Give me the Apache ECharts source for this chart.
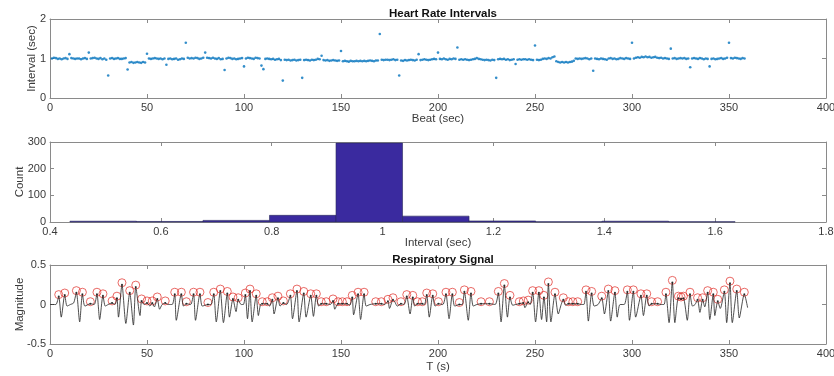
<!DOCTYPE html>
<html>
<head>
<meta charset="utf-8">
<script src="https://cdn.jsdelivr.net/npm/echarts@6/dist/echarts.min.js"></script>
<style>html,body{margin:0;padding:0;background:#fff}#c{width:834px;height:376px}</style>
</head>
<body>
<div id="c"></div>
<script>
// ---- Heart rate intervals (sec), beats 1..358 ----
const hrInterval = [
1.00,1.02,1.01,0.99,1.00,0.98,1.00,1.01,0.99,1.11,
1.01,1.00,0.99,1.00,1.00,0.98,1.00,1.01,0.99,1.15,
1.00,1.01,1.02,1.00,0.99,1.01,0.98,1.00,0.97,0.57,
1.00,1.01,0.99,1.00,1.01,0.99,0.99,1.00,1.01,0.72,
0.90,0.91,0.89,0.90,0.91,0.90,0.89,0.91,0.90,1.12,
1.00,0.99,1.00,1.01,1.00,0.99,1.00,0.98,1.00,0.84,
0.99,1.00,0.98,0.99,1.00,0.97,0.98,1.00,0.99,1.40,
1.02,1.00,1.01,1.00,1.02,1.01,0.99,1.00,1.02,1.15,
1.02,1.01,1.00,1.02,1.00,0.99,1.01,0.98,0.99,0.71,
1.00,1.02,1.01,0.99,1.00,0.98,0.99,1.00,1.01,0.80,
1.00,1.02,1.01,1.00,0.99,1.02,1.01,1.00,0.82,0.73,
0.99,1.00,0.99,0.98,0.99,0.97,0.98,0.99,0.96,0.44,
0.97,0.96,0.97,0.95,0.96,0.97,0.95,0.96,0.97,0.51,
0.96,0.97,0.96,0.95,0.97,0.96,0.97,0.99,0.98,1.07,
0.96,0.95,0.96,0.94,0.95,0.96,0.95,0.94,0.95,1.19,
0.93,0.94,0.93,0.92,0.94,0.93,0.93,0.94,0.93,0.94,
0.93,0.94,0.93,0.94,0.95,0.94,0.93,0.95,0.95,1.62,
0.97,0.96,0.97,0.97,0.96,0.97,0.98,0.96,0.97,0.57,
0.95,0.94,0.96,0.95,0.96,0.97,0.96,0.95,0.97,1.11,
0.96,0.97,0.98,0.97,0.96,0.97,0.98,0.99,0.98,1.15,
0.99,0.98,1.00,0.98,0.97,0.99,0.98,1.00,0.99,1.28,
0.97,0.98,0.97,0.98,0.97,0.96,0.97,0.98,0.99,1.01,
0.99,0.98,0.97,0.96,0.97,0.96,0.95,0.97,0.96,0.51,
0.98,0.99,0.98,0.99,0.97,0.98,0.96,0.97,0.98,0.86,
0.97,0.98,0.97,0.98,0.98,0.97,0.98,0.97,0.96,1.33,
0.97,0.96,0.97,0.99,1.00,0.99,1.01,1.00,1.03,1.05,
0.93,0.91,0.90,0.91,0.90,0.91,0.90,0.91,0.92,0.94,
1.00,0.99,1.00,0.99,1.00,1.01,1.00,0.98,1.00,0.69,
1.00,0.99,0.98,1.00,0.99,0.98,0.97,1.00,1.01,0.99,
1.00,0.98,0.99,1.01,1.00,0.99,1.01,1.00,0.99,1.40,
1.00,1.02,1.03,1.02,1.04,1.03,1.05,1.03,1.04,1.02,
1.03,1.04,1.02,1.01,1.02,1.00,1.01,1.00,0.99,1.25,
1.00,1.01,0.99,1.00,1.01,1.00,1.01,0.99,1.00,0.78,
1.00,1.01,1.00,0.99,1.01,1.00,0.98,1.00,0.99,0.80,
0.99,1.00,0.98,0.99,1.00,1.01,0.99,1.00,1.02,1.40,
1.01,1.00,1.02,1.01,1.00,0.99,1.01,1.00
];

// ---- Histogram of intervals ----
const binEdges = [0.436,0.556,0.676,0.796,0.916,1.036,1.156,1.276,1.396,1.516,1.636];
const binCounts = [3,2,6,25,296,22,4,1,3,1];

// ---- Respiratory signal (time s, magnitude) ----
const sigT = [0,3,4.5,5.8,7.6,8.8,10.5,12.2,13.6,15.3,16.7,18,20.8,22.8,24.2,25.6,27.3,28.5,30,32,33.5,
34.5,35.3,37.1,39.1,41.1,43.0,44.2,46.4,47.2,48.5,50,51.5,52.7,53.8,55.3,56.5,57.8,59.4,61,63,
64.3,65.1,67.7,68.8,70.3,72.5,74,75,77.3,78.5,81.4,83,
84.4,85.7,87.8,89.4,91.4,92.5,94.3,95.9,97,98.5,99.7,
100.7,101.8,103.1,104.2,106.3,107.4,108.5,109.4,112,113.2,114.6,115.5,117.5,118.6,120.3,122,
123.9,125,127.3,128.4,130.8,132,134.4,135.8,137.3,138.5,139.8,142.4,144.5,145.9,146.8,148.5,150.7,153.1,154.5,
155.8,156.5,158.8,160.1,161.9,163,165,167.9,170.8,172.5,
174.2,175,176.8,177.8,179,180.9,182.5,
183.9,185.6,187,188,189.4,191.9,193,
194.2,195.5,197.3,198.5,200.2,202.5,
204.1,205.7,207.4,208.6,211,212.5,
213.6,215.6,217,218.2,220,222.2,226.5,229.5,
231.1,232.5,234.2,235.8,237.1,238.5,240,241.9,244,244.8,246.5,247.5,
248.8,250.3,252,253.4,254.6,256,256.9,258.2,260.3,262,263.5,264.6,265.8,267.2,269.5,272,274,275.2,
276.3,277.5,279.2,280.5,282.5,284.4,285.8,287.8,289,291.2,292.4,293.8,296,
297.6,298.7,300.7,301.9,304.6,305.9,307.6,308.8,310.1,313.2,315,316.5,
317.5,319.1,320.8,322.1,323.9,325.3,326.5,328.5,329.9,331.2,332.5,333.8,335,336.4,337.5,
339,340.1,341.9,342.7,344.2,345.5,347.6,348.8,350.5,351.7,354,355.3,357.9,359.6];
const sigV = [0,0,0.10,-0.16,0.12,-0.02,0,0.02,0.15,-0.22,0.13,-0.02,0.01,0,0.13,-0.19,0.11,-0.02,0,0.02,0,
0.08,-0.16,0.25,-0.24,0.15,-0.26,0.22,-0.14,0.045,0,0.02,-0.02,0.02,-0.03,0.07,-0.06,0,0.02,0,0,
0.13,-0.20,0.13,-0.02,0.01,0,0.13,-0.20,0.13,-0.02,0,0,
0.13,-0.22,0.17,-0.23,0.14,-0.16,0.07,-0.09,0.06,0,0,
0.12,-0.18,0.17,-0.22,0.11,-0.14,0,0.01,0.01,-0.02,0.06,-0.12,0.08,-0.02,0.02,0,
0.11,-0.18,0.17,-0.22,0.14,-0.16,0.11,-0.15,0.11,-0.02,0.01,0.01,0,0.045,-0.06,0.01,0.01,0.01,-0.01,
0.09,-0.13,0.13,-0.19,0.13,-0.02,0,0.01,0.01,0,
0.04,-0.05,0.06,0.03,-0.02,0.01,0,
0.10,-0.12,0.09,-0.02,0.01,0.01,0,
0.12,-0.16,0.11,-0.02,0.01,0,
0.13,-0.18,0.13,-0.02,0,0,
0.16,-0.20,0.14,-0.02,0,0.01,0.01,0,
0.14,-0.22,0.24,-0.16,0.09,-0.01,0,0.01,0.02,-0.04,0.03,0,
0.15,-0.22,0.15,-0.19,0.09,-0.22,0.26,-0.22,0.13,-0.12,0,0.06,-0.01,0.01,0.01,0.01,0,0,
0.16,-0.21,0.14,-0.02,0,0.08,-0.12,0.17,-0.21,0.15,-0.16,0,0,
0.16,-0.20,0.16,-0.16,0.11,-0.14,0.11,-0.02,0.01,0.01,0,0,
0.13,-0.23,0.28,-0.23,0.08,0.07,0.08,-0.20,0.13,-0.02,0,0.06,-0.10,0.06,-0.03,
0.15,-0.19,0.13,-0.14,0.04,-0.05,0.16,-0.23,0.27,-0.23,0.17,-0.17,0.13,-0.04];

// ---- Detected peaks ----
const peakT = [4.5,7.6,13.6,16.7,20.8,24.2,27.3,32,34.5,37.1,41.1,44.2,47.2,50,52.7,55.3,59.4,64.3,67.7,70.3,74,77.3,81.4,
84.4,87.8,91.4,94.3,97,100.7,103.1,106.3,109.4,112,114.6,117.5,120.3,123.9,127.3,130.8,134.4,137.3,139.8,142.4,145.9,
148.5,150.7,153.1,155.8,158.8,161.9,167.9,170.8,174.2,176.8,180.9,183.9,187,189.4,191.9,194.2,197.3,200.2,204.1,207.4,
211,213.6,217,222.2,226.5,231.1,234.2,237.1,241.9,244,246.5,248.8,252,254.6,256.9,260.3,264.6,267.2,269.5,272,276.3,
279.2,284.4,287.8,291.2,297.6,300.7,304.6,307.6,310.1,313.2,317.5,320.8,323.9,325.3,326.5,329.9,333.8,336.4,339,341.9,
344.2,347.6,350.5,354,357.9];
const peakV = [0.10,0.12,0.15,0.13,0.01,0.13,0.11,0.02,0.08,0.25,0.15,0.22,0.045,0.02,0.02,0.07,0.02,0.13,0.13,0.01,0.13,0.13,0,
0.13,0.17,0.14,0.07,0.06,0.12,0.17,0.11,0.01,0.01,0.06,0.08,0.02,0.11,0.17,0.14,0.11,0.11,0.01,0.01,0.045,
0.01,0.01,0.01,0.09,0.13,0.13,0.01,0.01,0.04,0.06,0.01,0.10,0.09,0.01,0.01,0.12,0.11,0.01,0.13,0.13,
0,0.16,0.14,0.01,0.01,0.14,0.24,0.09,0.01,0.02,0.03,0.15,0.15,0.09,0.26,0.13,0.06,0.01,0.01,0.01,0.16,
0.14,0.08,0.17,0.15,0.16,0.16,0.11,0.11,0.01,0.01,0.13,0.28,0.08,0.07,0.08,0.13,0.06,0.06,0.15,0.13,
0.04,0.16,0.27,0.17,0.13];

const FONT = 'Liberation Sans, Arial, sans-serif';
const AX = '#8a8a8a';
const TXT = '#3a3a3a';

const grids = [
  {left: 50, right: 8, top: 19, height: 79, containLabel: false, outerBoundsMode: 'none'},
  {left: 50, right: 8, top: 142, height: 80, containLabel: false, outerBoundsMode: 'none'},
  {left: 50, right: 8, top: 265, height: 79, containLabel: false, outerBoundsMode: 'none'}
];
const xSpec = [
  {min: 0, max: 400, interval: 50, name: 'Beat (sec)', gap: 15},
  {min: 0.4, max: 1.8, interval: 0.2, name: 'Interval (sec)', gap: 15},
  {min: 0, max: 400, interval: 50, name: 'T (s)', gap: 17}
];
const ySpec = [
  {min: 0, max: 2, interval: 1, name: 'Interval (sec)', gap: 12},
  {min: 0, max: 300, interval: 100, name: 'Count', gap: 24},
  {min: -0.5, max: 0.5, interval: 0.5, name: 'Magnitude', gap: 24}
];

const xAxes = [], yAxes = [];
grids.forEach((g, i) => {
  const xs = xSpec[i], ys = ySpec[i];
  xAxes.push({
    type: 'value', gridIndex: i, position: 'bottom', min: xs.min, max: xs.max, interval: xs.interval,
    name: xs.name, nameLocation: 'middle', nameGap: xs.gap, nameMoveOverlap: false,
    nameTextStyle: {fontFamily: FONT, fontSize: 11.5, color: TXT},
    axisLine: {show: true, onZero: false, lineStyle: {color: AX, width: 1}},
    axisTick: {show: true, inside: true, length: 4, lineStyle: {color: AX}},
    axisLabel: {fontFamily: FONT, fontSize: 11, color: TXT, margin: 4},
    splitLine: {show: false}
  });
  xAxes.push({
    type: 'value', gridIndex: i, position: 'top', min: xs.min, max: xs.max, interval: xs.interval,
    axisLine: {show: true, onZero: false, lineStyle: {color: AX, width: 1}},
    axisTick: {show: true, inside: true, length: 4, lineStyle: {color: AX}},
    axisLabel: {show: false}, splitLine: {show: false}
  });
  yAxes.push({
    type: 'value', gridIndex: i, position: 'left', min: ys.min, max: ys.max, interval: ys.interval,
    name: ys.name, nameLocation: 'middle', nameGap: ys.gap, nameRotate: 90, nameMoveOverlap: false,
    nameTextStyle: {fontFamily: FONT, fontSize: 11.5, color: TXT},
    axisLine: {show: true, onZero: false, lineStyle: {color: AX, width: 1}},
    axisTick: {show: true, inside: true, length: 4, lineStyle: {color: AX}},
    axisLabel: {fontFamily: FONT, fontSize: 11, color: TXT, margin: 4},
    splitLine: {show: false}
  });
  yAxes.push({
    type: 'value', gridIndex: i, position: 'right', min: ys.min, max: ys.max, interval: ys.interval,
    axisLine: {show: true, onZero: false, lineStyle: {color: AX, width: 1}},
    axisTick: {show: true, inside: true, length: 4, lineStyle: {color: AX}},
    axisLabel: {show: false}, splitLine: {show: false}
  });
});

const hrData = hrInterval.map((v, i) => [i + 1, v]);
const histData = binCounts.map((c, i) => [binEdges[i], binEdges[i + 1], c]);
const sigData = sigT.map((t, i) => [t, sigV[i]]);
const peakData = peakT.map((t, i) => [t, peakV[i]]);

const chart = echarts.init(document.getElementById('c'), null, {renderer: 'canvas'});
chart.setOption({
  animation: false,
  backgroundColor: '#ffffff',
  title: [
    {text: 'Heart Rate Intervals', left: 438, top: 3, textAlign: 'center',
     textStyle: {fontFamily: FONT, fontSize: 11.5, fontWeight: 'bold', color: '#111'}},
    {text: 'Respiratory Signal', left: 438, top: 249, textAlign: 'center',
     textStyle: {fontFamily: FONT, fontSize: 11.5, fontWeight: 'bold', color: '#111'}}
  ],
  grid: grids,
  xAxis: xAxes,
  yAxis: yAxes,
  series: [
    {
      type: 'scatter', xAxisIndex: 0, yAxisIndex: 0, data: hrData,
      symbol: 'circle', symbolSize: 2.6, itemStyle: {color: '#0072BD'}
    },
    {
      type: 'custom', xAxisIndex: 2, yAxisIndex: 2, data: histData,
      encode: {x: [0, 1], y: 2},
      renderItem: function (params, api) {
        const p0 = api.coord([api.value(0), api.value(2)]);
        const p1 = api.coord([api.value(1), 0]);
        return {
          type: 'rect',
          shape: {x: p0[0], y: p0[1], width: p1[0] - p0[0], height: p1[1] - p0[1]},
          style: {fill: '#3a2a9f', stroke: '#2a2a5a', lineWidth: 0.6}
        };
      }
    },
    {
      type: 'line', xAxisIndex: 4, yAxisIndex: 4, data: sigData,
      smooth: 0.25, showSymbol: false, lineStyle: {color: '#222', width: 0.8}
    },
    {
      type: 'scatter', xAxisIndex: 4, yAxisIndex: 4, data: peakData,
      symbol: 'circle', symbolSize: 8, symbolOffset: [0, -2],
      itemStyle: {color: 'rgba(255,255,255,0)', borderColor: '#e0302a', borderWidth: 0.9}
    },
    {
      type: 'scatter', xAxisIndex: 4, yAxisIndex: 4, data: peakData,
      symbol: 'circle', symbolSize: 2, itemStyle: {color: '#111'}, z: 3
    }
  ]
});
</script>
</body>
</html>
